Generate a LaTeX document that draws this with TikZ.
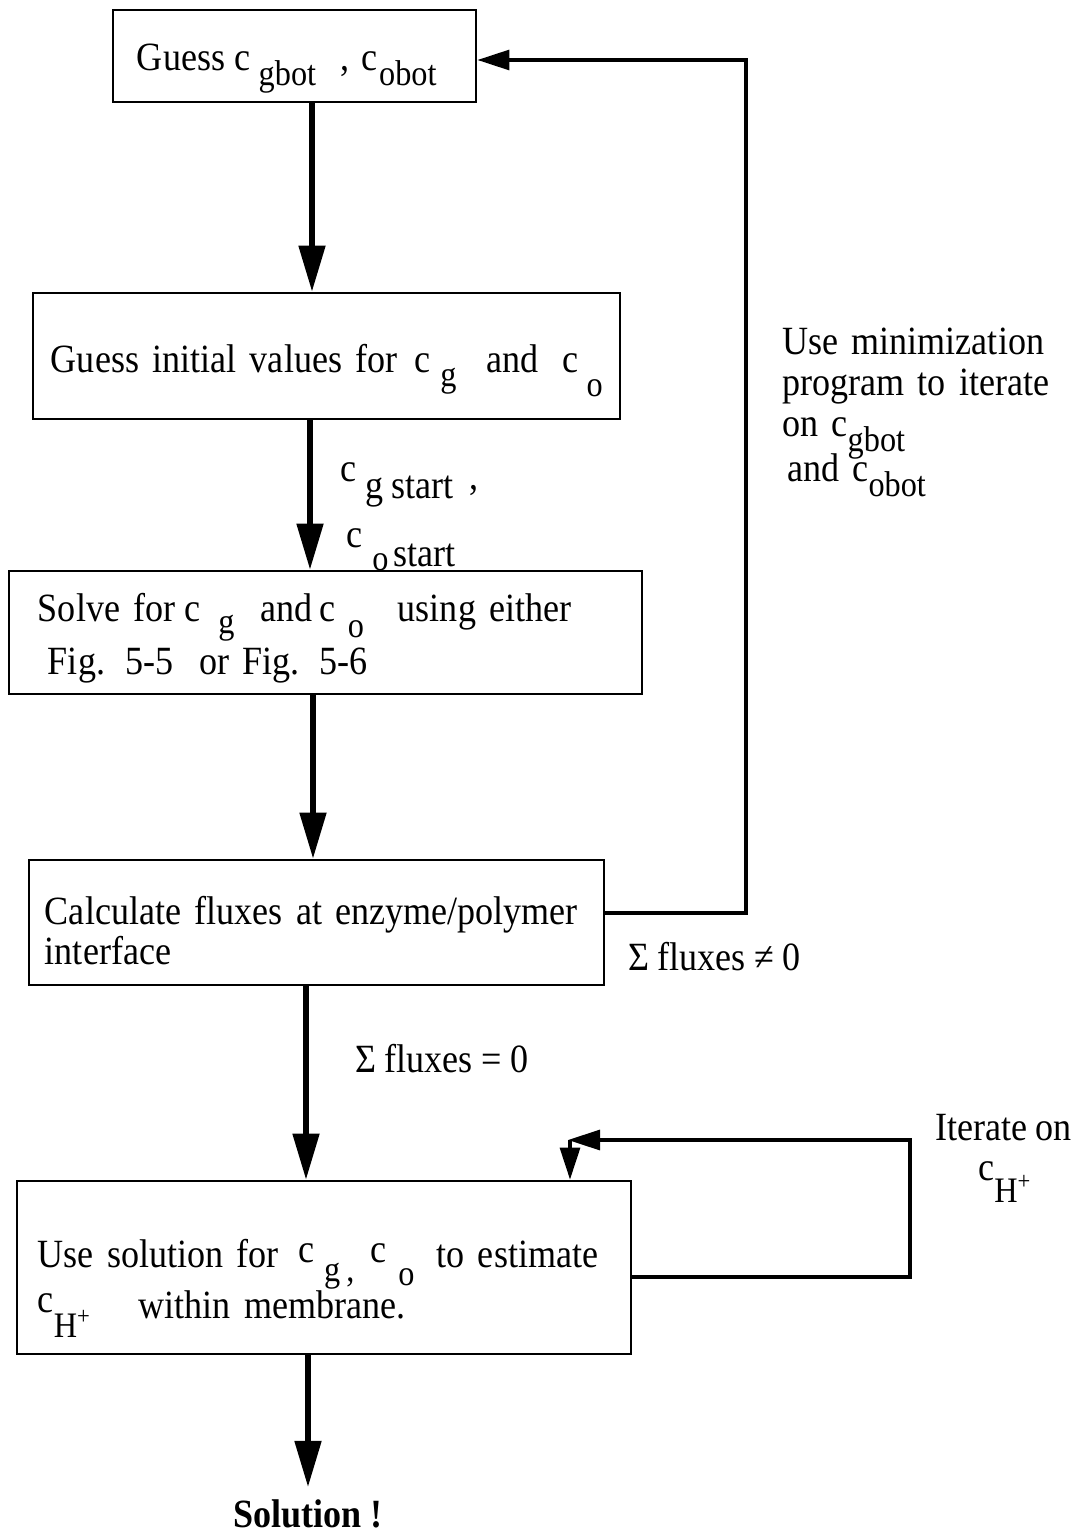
\documentclass[tikz,border=0pt]{standalone}
\usepackage{fontspec}
\setmainfont{Liberation Serif}[FakeStretch=0.9]
\usepackage{tikz}
\usetikzlibrary{arrows.meta}

% subscript set a little smaller, dropped below the line
\newcommand{\lowered}[2][0.37em]{\raisebox{-#1}[0.5em][0pt]{\fontsize{25.5}{29}\selectfont#2}}
\newcommand{\flowfont}{\fontsize{28.5}{29}\selectfont\spaceskip=0.21em\relax}

\tikzset{
  box/.style={draw, line width=2pt, rectangle, align=left, anchor=center, inner ysep=0pt,
    font=\flowfont},
  flow/.style={line width=3.6pt, -{Triangle[length=1.15cm, width=0.65cm]}},
  loopback/.style={line width=2.2pt, -{Triangle[length=0.8cm, width=0.5cm]}},
  lbl/.style={anchor=base west, align=left, inner sep=0pt, font=\flowfont}
}

\begin{document}
\begin{tikzpicture}[x=0.025cm, y=-0.025cm]
    \useasboundingbox (0,0) rectangle (1081,1536);

    % Boxes
    \node[box, minimum width=9.075cm, text width=7.875cm, inner xsep=0.6cm,
      text height=1.525cm, text depth=0.775cm] (guess) at (294.5,56)
      {\mbox{Guess\hspace{0.24cm}c\hspace{0.2cm}\lowered{gbot}\hspace{0.62cm},\hspace{0.28cm}c\hspace{0.05cm}\lowered{obot}}};
    \node[box, minimum width=14.675cm, text width=13.775cm, inner xsep=0.45cm,
      text height=1.975cm, text depth=1.175cm] (initial) at (326.5,356)
      {\mbox{Guess initial values for\hspace{0.42cm}c\hspace{0.25cm}\lowered{g}\hspace{0.75cm}and\hspace{0.6cm}c\hspace{0.2cm}\lowered[0.6em]{o}}};
    \node[box, minimum width=15.825cm, text width=14.375cm, inner xsep=0.725cm,
      text height=1.25cm, text depth=1.825cm] (solve) at (325.5,632.5)
      {\mbox{Solve for\hspace{0.22cm}c\hspace{0.45cm}\lowered[0.3em]{g}\hspace{0.65cm}and\hspace{0.18cm}c\hspace{0.3cm}\lowered[0.4em]{o}\hspace{0.85cm}using either}\\[0.31cm]
      \mbox{\hspace{0.25cm}Fig. 5-5\hspace{0.65cm}or\hspace{0.32cm}Fig. 5-6}};
    \node[box, minimum width=14.375cm, text width=13.575cm, inner xsep=0.4cm,
      text height=1.6cm, text depth=1.525cm] (fluxes) at (316.5,922.5)
      {\mbox{Calculate fluxes at enzyme/polymer}\\interface};
    \node[box, minimum width=15.35cm, text width=14.3cm, inner xsep=0.525cm,
      text height=2.15cm, text depth=2.175cm] (estimate) at (324,1267.5)
      {\mbox{Use solution for\hspace{0.48cm}\raisebox{0.12em}{c}\hspace{0.25cm}\lowered{g\,,}\hspace{0.4cm}\raisebox{0.12em}{c}\hspace{0.3cm}\lowered[0.45em]{o}\hspace{0.55cm}to estimate}\\[0.28cm]
      \mbox{\raisebox{0.15em}{c}\lowered[0.45em]{H\textsuperscript{+}}\hspace{1.2cm}within membrane.}};

    % Result
    \node[font=\flowfont\bfseries, anchor=base, inner sep=0.3cm] (solution) at (308,1527) {Solution !};

    % Main flow
    \draw[flow] (312,0 |- guess.south) -- (312,0 |- initial.north);
    \draw[flow] (310,0 |- initial.south) -- (310,0 |- solve.north);
    \draw[flow] (313,0 |- solve.south) -- (313,0 |- fluxes.north);
    \draw[flow] (306,0 |- fluxes.south) -- (306,0 |- estimate.north);
    \draw[flow] (308,0 |- estimate.south) -- (308,0 |- solution.north);

    % Outer loop
    \draw[loopback] (fluxes.east |- 0,913) -- (746,913) -- (746,60) -- (guess.east |- 0,60);

    % Inner loop
    \draw[loopback] (estimate.east |- 0,1277) -| (910,1140) -- (568,1140);
    \draw[loopback] (570,1140) -- (570,0 |- estimate.north);

    % Labels
    \node[lbl] (cstart) at (340,498) {\raisebox{0.42em}{c}\hspace{0.22cm}g start\hspace{0.4cm}\raisebox{0.2em}{,}};
    \node[lbl] (ostart) at (346,566) {\raisebox{0.45em}{c}\hspace{0.25cm}\lowered[0.1em]{o}\hspace{0.12cm}start};
    \node[lbl, text width=7cm] (minimize) at (782,355)
      {Use minimization\\program to iterate\\on c\lowered{gbot}\\[0.1cm]\hspace{0.12cm}and c\lowered{obot}};
    \node[lbl] (notzero) at (628,970) {Σ fluxes ≠ 0};
    \node[lbl] (zero) at (355,1072) {Σ fluxes = 0};
    \node[lbl] (iterate) at (935,1140) {Iterate on};
    \node[lbl] (hplus) at (978,1180) {c\lowered[0.55em]{H\textsuperscript{+}}};
\end{tikzpicture}
\end{document}
